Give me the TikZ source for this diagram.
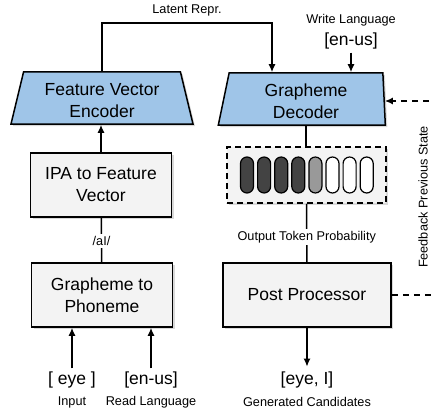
\documentclass[tikz,border=0pt]{standalone}
\usepackage{fontspec}
\setmainfont{Liberation Sans}
\usetikzlibrary{shapes.geometric, arrows.meta, shadows, positioning}
\definecolor{encblue}{HTML}{9FC5E8}
\definecolor{boxgray}{HTML}{F3F3F3}
\definecolor{tokdark}{HTML}{434343}
\definecolor{tokmid}{HTML}{999999}

\tikzset{
    big/.style={font=\fontsize{17.5}{22}\selectfont, align=center},
    small/.style={font=\fontsize{12.7}{15}\selectfont, inner sep=2pt},
    shade/.style={drop shadow={shadow xshift=2pt, shadow yshift=-2pt, opacity=0.3}},
    coder/.style={big, trapezium, trapezium stretches body=true, draw, line width=1.5pt,
        fill=encblue, shade, minimum height=52pt, text height=40pt},
    stage/.style={big, rectangle, draw, line width=1.5pt, fill=boxgray, shade,
        minimum height=64pt},
    arr/.style={line width=1.5pt, -{Latex[length=8pt, width=7pt]}},
    link/.style={line width=1.5pt},
    fb/.style={line width=1.5pt, dash pattern=on 6pt off 5pt},
    token/.style={draw, line width=1.2pt, rounded corners=6.5pt,
        minimum width=13pt, minimum height=36pt, inner sep=0pt}
}

\begin{document}
\begin{tikzpicture}[x=1pt, y=-1pt]
        \useasboundingbox (0,0) rectangle (434,412);

        % left column
        \node[coder, trapezium angle=75, minimum width=182pt] (encoder) at (102,98)
            {Feature Vector\\Encoder};
        \node[stage, minimum width=141pt] (ipa) at (101,185) {IPA to Feature\\Vector};
        \node[stage, minimum width=141pt] (g2p) at (102,295) {Grapheme to\\Phoneme};

        % right column
        \node[coder, trapezium left angle=77, trapezium right angle=87,
            minimum width=167pt] (decoder) at (306,99) {Grapheme\\Decoder};
        \node[draw, line width=1.5pt, dash pattern=on 6pt off 4pt, fill=boxgray, shade,
            minimum width=159pt, minimum height=56pt] (probs) at (306.5,175) {};
        \node[stage, minimum width=168pt] (post) at (307,295) {Post Processor};

        \foreach \c [count=\i from 0] in {tokdark,tokdark,tokdark,tokdark,tokmid,white,white,white}
            \node[token, fill=\c] (tok\i) at (247+17.1*\i,175) {};

        % inputs and outputs
        \node[big] (eye) at (72,380) {[ eye ]};
        \node[big] (rlang) at (151,380) {[en-us]};
        \node[small] (inp) at (72,402) {Input};
        \node[small] (rlangtxt) at (151,402) {Read Language};
        \node[big, inner sep=5pt] (cands) at (307,380) {[eye, I]};
        \node[small] (candstxt) at (307,402) {Generated Candidates};
        \node[small] (wlangtxt) at (351,20) {Write Language};
        \node[big] (wlang) at (351,41) {[en-us]};
        \node[small] (latent) at (187,10) {Latent Repr.};
        \node[small, rotate=90] (fbtxt) at (423,197) {Feedback Previous State};

        % connectors
        \coordinate (bend) at (272,23);
        \coordinate (fbin) at (440,101);
        \coordinate (fbout) at (440,295);
        \draw[arr] (eye.north) -- (eye.north |- g2p.south);
        \draw[arr] (rlang.north) -- (rlang.north |- g2p.south);
        \draw[link] (g2p) -- node[small, fill=white, pos=0.48] (ai) {/aI/} (ipa);
        \draw[arr] (ipa.north) -- (ipa.north |- encoder.south);
        \draw[arr] (encoder.north) |- (bend) -- (bend |- decoder.north);
        \draw[arr] (wlang.south) -- (wlang.south |- decoder.north);
        \draw[link] (decoder.south) -- (decoder.south |- probs.north);
        \draw[link] (probs) -- node[small, fill=white, pos=0.57] (otp) {Output Token Probability} (post);
        \draw[arr] (post.south) -- (cands.north);
        \draw[fb, -{Latex[length=8pt, width=7pt]}] (fbin) -- (fbin -| decoder.east);
        \draw[fb] (post.east) -- (fbout);
\end{tikzpicture}
\end{document}
